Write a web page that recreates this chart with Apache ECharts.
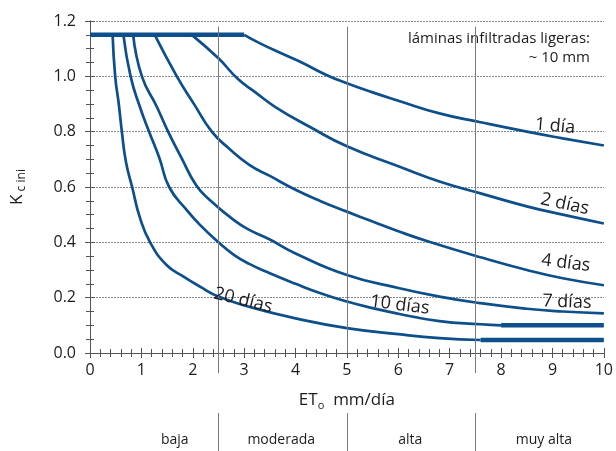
<!DOCTYPE html>
<html>
<head>
<meta charset="utf-8">
<script src="https://cdn.jsdelivr.net/npm/echarts@6/dist/echarts.min.js"></script>
<style>
html, body { margin: 0; padding: 0; background: #fff; }
#main { width: 616px; height: 451px; }
</style>
</head>
<body>
<div id="main"></div>
<script>
var chart = echarts.init(document.getElementById('main'))

// Kc ini frente a ETo, por intervalo entre riegos (láminas ligeras ~10 mm)
var dia1 = [[3.0,1.15],[3.3,1.12],[3.7,1.085],[4.1,1.052],[4.6,1.005],[5.0,0.975],[5.5,0.942],[6.0,0.912],[6.8,0.866],[7.6,0.834],[8.5,0.8],[9.2,0.776],[10,0.75]]
var dia2 = [[1.98,1.15],[2.5,1.065],[2.88,0.99],[3.2,0.945],[3.6,0.89],[4.3,0.815],[5.0,0.747],[6.0,0.675],[6.8,0.62],[7.6,0.577],[8.5,0.53],[9.2,0.5],[10,0.468]]
var dia4 = [[1.26,1.15],[1.69,1.0],[2.04,0.895],[2.37,0.8],[2.7,0.74],[3.1,0.68],[3.5,0.64],[4.0,0.59],[4.5,0.548],[5.0,0.511],[5.5,0.475],[6.0,0.44],[6.6,0.402],[7.6,0.346],[8.5,0.3],[9.2,0.27],[10,0.245]]
var dia7 = [[0.84,1.15],[1.01,1.0],[1.3,0.89],[1.52,0.8],[1.78,0.705],[2.07,0.605],[2.33,0.553],[2.8,0.48],[3.1,0.445],[3.5,0.41],[4.0,0.36],[5.0,0.282],[6.0,0.235],[6.8,0.204],[7.6,0.18],[8.5,0.16],[9.2,0.15],[10,0.143]]
var dia10 = [[0.65,1.15],[0.79,1.0],[0.97,0.89],[1.15,0.8],[1.35,0.705],[1.54,0.6],[1.88,0.517],[2.14,0.463],[2.5,0.4],[2.8,0.355],[3.1,0.322],[3.5,0.288],[4.0,0.25],[4.5,0.215],[5.0,0.186],[5.5,0.162],[6.0,0.142],[6.8,0.115],[7.6,0.104],[8.0,0.1]]
var dia20 = [[0.44,1.15],[0.49,1.0],[0.56,0.9],[0.62,0.8],[0.7,0.69],[0.82,0.6],[0.97,0.49],[1.17,0.4],[1.49,0.318],[1.82,0.276],[2.14,0.24],[2.5,0.204],[3.1,0.167],[4.0,0.125],[5.0,0.09],[6.0,0.068],[6.8,0.054],[7.6,0.047]]

// tramos gruesos
var plateau = [[0,1.15],[3.0,1.15]]
var tail10 = [[8.0,0.1],[10,0.1]]
var tail20 = [[7.6,0.047],[10,0.047]]

// etiquetas de las curvas: texto, x, y
var curveLabels = [['1 día',9.05,0.82],['2 días',9.24,0.538],['4 días',9.26,0.325],['7 días',9.28,0.184],['10 días',6.03,0.173],['20 días',2.98,0.19]]
var labelRot = [-5,-12,-7,-2,-7,-14]

// clases de ETo
var bandNames = ['baja','moderada','alta','muy alta']
var bandPos = [1.65,3.72,6.23,8.83]
var bandEdges = [2.5,5,7.5]

var blue = '#0d4f8b'
var txt = '#1e1b1c'
var axisCol = '#555'
var font = 'Open Sans'

function curve(data, w) {
    return {
        type: 'line', data: data, showSymbol: false, smooth: 0.5, z: 3,
        lineStyle: { color: blue, width: w }, silent: true
    }
}

function vlines(edges, top) {
    return edges.map(function (v) {
        if (top == null) return { xAxis: v }
        return [{ coord: [v, 0] }, { coord: [v, top] }]
    })
}

// texto en coordenadas de datos (custom series)
function textSeries(items, size, xi, yi) {
    return {
        type: 'custom', xAxisIndex: xi, yAxisIndex: yi, z: 5, silent: true,
        data: items.map(function (it) { return [it.x, it.y] }),
        renderItem: function (params, api) {
            var it = items[params.dataIndex]
            var p = api.coord([api.value(0), api.value(1)])
            return {
                type: 'text', x: p[0], y: p[1], rotation: (it.rot || 0) * Math.PI / 180,
                style: { text: it.text, fill: txt, fontSize: size, fontFamily: font, align: 'center', verticalAlign: 'middle' }
            }
        }
    }
}

var baseX = { type: 'value', min: 0, max: 10, interval: 1 }
var baseY = { type: 'value', min: 0, max: 1.2, interval: 0.2 }

var option = {
    animation: false,
    textStyle: { fontFamily: font },
    grid: [
        { left: 90, right: 12, top: 21, bottom: 98 },
        { left: 90, right: 12, top: 353, height: 20 },
        { left: 90, right: 12, top: 413, bottom: 0 }
    ],
    xAxis: [
        Object.assign({}, baseX, {
            gridIndex: 0, position: 'bottom',
            axisLine: { show: true, lineStyle: { color: axisCol } },
            axisTick: { show: true, inside: false, length: 5, lineStyle: { color: axisCol } },
            minorTick: { show: true, splitNumber: 5, length: 4, lineStyle: { color: axisCol } },
            axisLabel: { fontSize: 16, color: txt, margin: 9, fontFamily: font },
            splitLine: { show: false },
            name: '{n|ET}{s|o}{n|  mm/día}', nameLocation: 'middle', nameGap: 36,
            nameTextStyle: {
                rich: {
                    n: { fontSize: 17, color: txt, fontFamily: font, lineHeight: 22 },
                    s: { fontSize: 11, color: txt, fontFamily: font, verticalAlign: 'bottom', lineHeight: 14 }
                }
            }
        }),
        Object.assign({}, baseX, {
            gridIndex: 0, position: 'bottom',
            axisLine: { show: false },
            axisTick: { show: true, inside: true, length: 5, lineStyle: { color: axisCol } },
            minorTick: { show: true, splitNumber: 5, length: 4, lineStyle: { color: axisCol } },
            axisLabel: { show: false }, splitLine: { show: false }
        }),
        Object.assign({}, baseX, {
            gridIndex: 0, position: 'top',
            axisLine: { show: true, lineStyle: { color: axisCol } },
            axisTick: { show: false }, axisLabel: { show: false }, splitLine: { show: false }
        }),
        Object.assign({}, baseX, { gridIndex: 1, show: false }),
        Object.assign({}, baseX, { gridIndex: 2, show: false })
    ],
    yAxis: [
        Object.assign({}, baseY, {
            gridIndex: 0, position: 'left',
            axisLine: { show: true, lineStyle: { color: axisCol } },
            axisTick: { show: true, inside: false, length: 5, lineStyle: { color: axisCol } },
            minorTick: { show: true, splitNumber: 4, length: 4, lineStyle: { color: axisCol } },
            axisLabel: { fontSize: 16, color: txt, margin: 14, fontFamily: font,
                formatter: function (v) { return v.toFixed(1) } },
            splitLine: { show: true, lineStyle: { color: '#8a8a8a', type: [2, 1], width: 1 } },
            name: '{k|K}{s| c ini}', nameLocation: 'middle', nameGap: 62,
            nameTextStyle: {
                rich: {
                    k: { fontSize: 17, color: txt, fontFamily: font, lineHeight: 22 },
                    s: { fontSize: 12, color: txt, fontFamily: font, verticalAlign: 'bottom', lineHeight: 14 }
                }
            }
        }),
        Object.assign({}, baseY, {
            gridIndex: 0, position: 'left',
            axisLine: { show: false },
            axisTick: { show: true, inside: true, length: 5, lineStyle: { color: axisCol } },
            minorTick: { show: true, splitNumber: 4, length: 4, lineStyle: { color: axisCol } },
            axisLabel: { show: false }, splitLine: { show: false }
        }),
        Object.assign({}, baseY, {
            gridIndex: 0, position: 'right',
            axisLine: { show: true, lineStyle: { color: axisCol } },
            axisTick: { show: false }, axisLabel: { show: false }, splitLine: { show: false }
        }),
        { type: 'value', min: 0, max: 1, gridIndex: 1, show: false },
        { type: 'value', min: 0, max: 1, gridIndex: 2, show: false }
    ],
    graphic: [
        { type: 'text', right: 26, top: 31, style: { text: 'láminas infiltradas ligeras:', fontSize: 15, fill: txt, fontFamily: font, align: 'right' } },
        { type: 'text', right: 26, top: 50, style: { text: '~ 10 mm', fontSize: 15, fill: txt, fontFamily: font, align: 'right' } }
    ],
    series: [
        // rejilla vertical en 2.5, 5 y 7.5
        {
            type: 'line', data: [], xAxisIndex: 0, yAxisIndex: 0, z: 1, silent: true,
            markLine: { silent: true, symbol: ['none', 'none'], label: { show: false },
                lineStyle: { color: '#7a7a7a', type: 'solid', width: 1 }, data: vlines(bandEdges, 1.18) }
        },
        {
            type: 'line', data: [], xAxisIndex: 3, yAxisIndex: 3, silent: true,
            markLine: { silent: true, symbol: ['none', 'none'], label: { show: false },
                lineStyle: { color: '#7a7a7a', type: 'solid', width: 1 }, data: vlines([2.5, 7.5]) }
        },
        {
            type: 'line', data: [], xAxisIndex: 4, yAxisIndex: 4, silent: true,
            markLine: { silent: true, symbol: ['none', 'none'], label: { show: false },
                lineStyle: { color: '#7a7a7a', type: 'solid', width: 1 }, data: vlines(bandEdges) }
        },
        textSeries(bandPos.map(function (x, i) { return { x: x, y: 0.3, text: bandNames[i] } }), 14, 4, 4),
        curve(plateau, 4.5),
        curve(tail10, 4.5),
        curve(tail20, 4.5),
        curve(dia1, 2.7),
        curve(dia2, 2.7),
        curve(dia4, 2.7),
        curve(dia7, 2.7),
        curve(dia10, 2.7),
        curve(dia20, 2.7),
        textSeries(curveLabels.map(function (c, i) { return { x: c[1], y: c[2], text: c[0], rot: labelRot[i] } }), 18, 0, 0)
    ]
}

chart.setOption(option)
</script>
</body>
</html>
